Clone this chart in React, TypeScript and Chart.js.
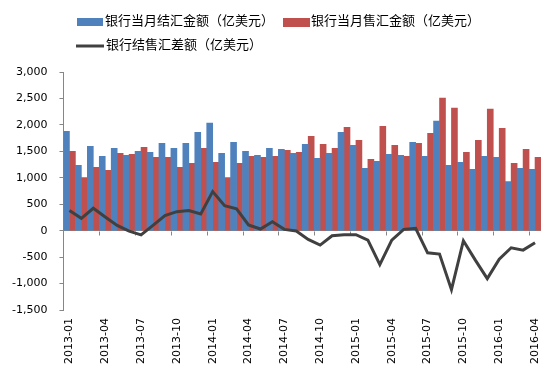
import React, { useEffect, useRef } from "react";
import { Chart, registerables } from "chart.js";

Chart.register(...registerables);

const months = [
  "2013-01", "2013-02", "2013-03", "2013-04", "2013-05", "2013-06", "2013-07", "2013-08", "2013-09", "2013-10", "2013-11", "2013-12",
  "2014-01", "2014-02", "2014-03", "2014-04", "2014-05", "2014-06", "2014-07", "2014-08", "2014-09", "2014-10", "2014-11", "2014-12",
  "2015-01", "2015-02", "2015-03", "2015-04", "2015-05", "2015-06", "2015-07", "2015-08", "2015-09", "2015-10", "2015-11", "2015-12",
  "2016-01", "2016-02", "2016-03", "2016-04",
];

const settlement = [
  1880, 1234, 1595, 1405, 1557, 1424, 1500, 1481, 1652, 1557, 1652, 1861,
  2032, 1462, 1671, 1500, 1424, 1557, 1538, 1462, 1633, 1367, 1462, 1861,
  1614, 1177, 1310, 1443, 1424, 1671, 1405, 2070, 1234, 1291, 1158, 1405,
  1386, 930, 1177, 1158,
];

const sales = [
  1500, 1006, 1196, 1139, 1462, 1443, 1576, 1386, 1386, 1196, 1272, 1557,
  1291, 1006, 1272, 1405, 1386, 1405, 1519, 1481, 1785, 1633, 1557, 1956,
  1709, 1348, 1975, 1614, 1405, 1652, 1842, 2506, 2316, 1481, 1709, 2297,
  1937, 1272, 1538, 1386,
];

const balance = [
  380, 234, 424, 260, 100, -10, -80, 100, 285, 360, 380, 317,
  740, 474, 412, 108, 32, 170, 25, -5, -165, -272, -95, -76,
  -76, -177, -640, -177, 25, 44, -418, -443, -1114, -190, -557, -905,
  -537, -323, -367, -228,
];

const legendLabels = ["银行当月结汇金额（亿美元）", "银行当月售汇金额（亿美元）", "银行结售汇差额（亿美元）"];
const yTicks = { min: -1500, max: 3000, step: 500 };

const BLUE = "#4F81BD";
const RED = "#C0504D";
const LINE = "#404040";
const AXIS = "#868686";

const legendPlugin = {
  id: "customLegend",
  afterDraw(chart: any) {
    const ctx = chart.ctx;
    ctx.save();
    ctx.font = '13px "Noto Sans CJK SC"';
    ctx.textBaseline = "middle";
    ctx.textAlign = "left";
    ctx.fillStyle = BLUE;
    ctx.fillRect(77, 18, 26, 8);
    ctx.fillStyle = "#000";
    ctx.fillText(legendLabels[0], 105, 20);
    ctx.fillStyle = RED;
    ctx.fillRect(283, 18, 27, 9);
    ctx.fillStyle = "#000";
    ctx.fillText(legendLabels[1], 311, 20);
    ctx.strokeStyle = LINE;
    ctx.lineWidth = 3;
    ctx.beginPath();
    ctx.moveTo(76, 46);
    ctx.lineTo(104, 46);
    ctx.stroke();
    ctx.fillText(legendLabels[2], 106, 44);
    ctx.restore();
  },
};

const zeroTicksPlugin = {
  id: "zeroTicks",
  beforeDatasetsDraw(chart: any) {
    const ctx = chart.ctx;
    const x = chart.scales.x;
    const y = chart.scales.y;
    const y0 = Math.round(y.getPixelForValue(0)) + 0.5;
    const step = (x.right - x.left) / months.length;
    ctx.save();
    ctx.strokeStyle = AXIS;
    ctx.lineWidth = 1;
    ctx.beginPath();
    for (let i = 3; i < months.length; i += 3) {
      const px = Math.round(x.left + step * i) + 0.5;
      ctx.moveTo(px, y0);
      ctx.lineTo(px, y0 + 4);
    }
    ctx.stroke();
    ctx.restore();
  },
};

export default function App() {
  const ref = useRef<HTMLCanvasElement>(null);
  useEffect(() => {
    const chart = new Chart(ref.current as HTMLCanvasElement, {
      type: "bar",
      data: {
        labels: months,
        datasets: [
          {
            type: "line",
            label: legendLabels[2],
            data: balance,
            borderColor: LINE,
            backgroundColor: LINE,
            borderWidth: 3,
            pointRadius: 0,
            tension: 0,
            order: 0,
          } as any,
          {
            label: legendLabels[0],
            data: settlement,
            backgroundColor: BLUE,
            categoryPercentage: 1,
            barPercentage: 1,
            order: 1,
          },
          {
            label: legendLabels[1],
            data: sales,
            backgroundColor: RED,
            categoryPercentage: 1,
            barPercentage: 1,
            order: 1,
          },
        ],
      },
      options: {
        responsive: false,
        animation: false,
        layout: { padding: { left: 0, right: 17, top: 72, bottom: 0 } },
        plugins: { legend: { display: false }, tooltip: { enabled: false } },
        scales: {
          x: {
            grid: { display: false, drawTicks: false },
            border: { display: false },
            ticks: {
              autoSkip: false,
              maxRotation: 90,
              minRotation: 90,
              padding: 8,
              color: "#000",
              font: { family: "DejaVu Sans", size: 11 },
              callback: (_v: any, i: number) => (i % 3 === 0 ? months[i] : ""),
            },
          },
          y: {
            min: yTicks.min,
            max: yTicks.max,
            border: { display: true, color: AXIS, width: 1 },
            grid: {
              drawOnChartArea: true,
              color: (c: any) => (c.tick && c.tick.value === 0 ? AXIS : "transparent"),
              tickColor: AXIS,
              tickLength: 4,
            },
            ticks: {
              stepSize: yTicks.step,
              padding: 12,
              color: "#000",
              font: { family: "DejaVu Sans", size: 11 },
              callback: (v: any) => Number(v).toLocaleString("en-US"),
            },
          },
        },
      },
      plugins: [legendPlugin, zeroTicksPlugin],
    });
    return () => chart.destroy();
  }, []);
  return (
    <div style={{ position: "fixed", left: 0, top: 0, width: 558, height: 372, background: "#fff" }}>
      <canvas ref={ref} width={558} height={372} />
    </div>
  );
}
